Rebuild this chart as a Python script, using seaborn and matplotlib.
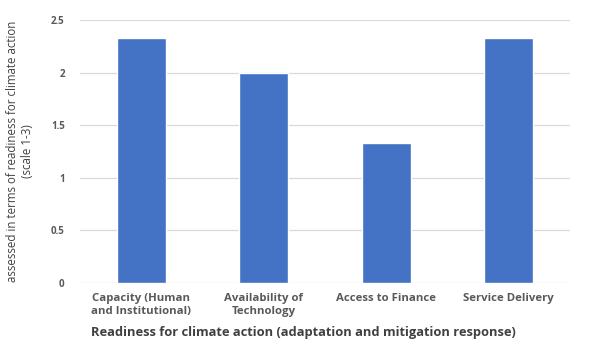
import matplotlib
matplotlib.use("Agg")
import matplotlib.pyplot as plt
import seaborn as sns
import pandas as pd

categories = ["Capacity (Human\nand Institutional)", "Availability of\nTechnology",
              "Access to Finance", "Service Delivery"]
scores = [2.33, 2.0, 1.33, 2.33]
y_ticks = [0, 0.5, 1, 1.5, 2, 2.5]
y_tick_labels = ["0", "0.5", "1", "1.5", "2", "2.5"]

sns.set_theme(style="white")
plt.rcParams["font.family"] = ["Open Sans", "DejaVu Sans"]

df = pd.DataFrame({"category": categories, "score": scores})

fig = plt.figure(figsize=(6.03, 3.46), dpi=100)
ax = fig.add_axes([0.1327, 0.182, 0.8123, 0.760])

sns.barplot(data=df, x="category", y="score", color="#4472C4", saturation=1,
            width=0.4, ax=ax, zorder=3)

ax.set_ylim(0, 2.5)
ax.set_xlim(-0.5, 3.5)
ax.set_yticks(y_ticks)
ax.set_yticklabels(y_tick_labels)
ax.yaxis.grid(True, color="#D9D9D9", linewidth=0.9, zorder=0)
ax.set_axisbelow(True)
for s in ax.spines.values():
    s.set_visible(False)
ax.tick_params(axis="both", length=0)
ax.tick_params(axis="y", pad=11, labelsize=7, labelcolor="#595959")
ax.tick_params(axis="x", pad=7, labelsize=8.2, labelcolor="#595959")
for lbl in ax.get_xticklabels() + ax.get_yticklabels():
    lbl.set_fontweight("bold")
    lbl.set_linespacing(1.25)

ax.set_xlabel("Readiness for climate action (adaptation and mitigation response)",
              fontsize=9.3, color="#404040", fontweight="bold", labelpad=9)
ax.xaxis.set_label_coords(0.455, -0.165)
ax.set_ylabel("assessed in terms of readiness for climate action\n(scale 1-3)",
              fontsize=8.3, color="#404040", labelpad=12, linespacing=1.2)

fig.savefig("out.png", dpi=100)
